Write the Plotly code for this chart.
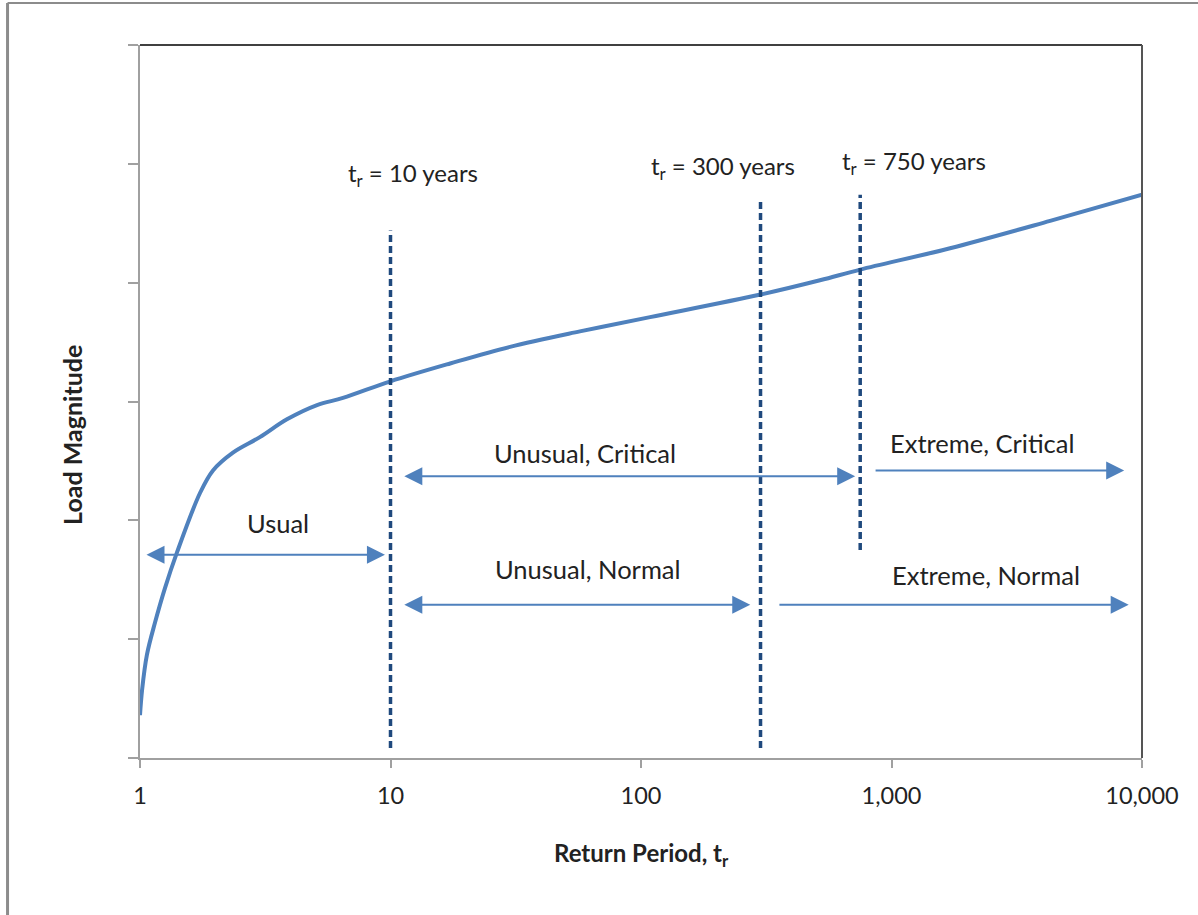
import numpy as np
import plotly.graph_objects as go

# ---- data ----
curve_x = [1.0, 1.019, 1.066, 1.148, 1.258, 1.405, 1.736, 1.956, 2.35, 3.01, 3.86, 5.09, 6.46,
           10, 17.3, 30, 57, 108.7, 300, 518, 750, 1713, 4297, 10000]
curve_y = [0.36, 0.57, 0.87, 1.14, 1.43, 1.73, 2.23, 2.42, 2.57, 2.70, 2.85, 2.97, 3.03,
           3.17, 3.32, 3.46, 3.59, 3.71, 3.90, 4.02, 4.11, 4.29, 4.52, 4.74]

limit_x = [10, 300, 750]
limit_top = [4.44, 4.71, 4.74]
limit_bottom = [0.084, 0.084, 1.75]
limit_labels = ["t<sub>r</sub> = 10 years", "t<sub>r</sub> = 300 years", "t<sub>r</sub> = 750 years"]
limit_label_x = [12.3, 212, 1230]
limit_label_y = [4.91, 4.97, 5.01]

range_names = ["Usual", "Unusual, Critical", "Unusual, Normal", "Extreme, Critical", "Extreme, Normal"]
range_start = [1.047, 11.2, 11.2, 852, 352]
range_end = [9.5, 716, 273, 8490, 8850]
range_level = [1.71, 2.37, 1.29, 2.42, 1.29]
range_double = [True, True, True, False, False]
range_label_x = [3.56, 59.8, 61.4, 2297, 2384]
range_label_y = [1.98, 2.57, 1.59, 2.65, 1.54]

x_tickvals = [1, 10, 100, 1000, 10000]
x_ticktext = ["1", "10", "100", "1,000", "10,000"]
y_tickvals = [0, 1, 2, 3, 4, 5, 6]

BLUE = "#4F81BD"
DARK = "#1F497D"
TXT = "#222222"
FONT = "Lato"

fig = go.Figure()

fig.add_trace(go.Scatter(x=curve_x, y=curve_y, mode="lines",
                         line=dict(color=BLUE, width=4, shape="spline", smoothing=1.0),
                         hoverinfo="skip", showlegend=False))

for xv, yt, yb in zip(limit_x, limit_top, limit_bottom):
    fig.add_trace(go.Scatter(x=[xv, xv], y=[yb, yt], mode="lines",
                             line=dict(color=DARK, width=3.5, dash="7px,4px"),
                             hoverinfo="skip", showlegend=False))

annotations = []
for txt, lx, ly in zip(limit_labels, limit_label_x, limit_label_y):
    annotations.append(dict(x=np.log10(lx), y=ly, xref="x", yref="y", text=txt,
                            showarrow=False, xanchor="center", yanchor="middle",
                            font=dict(family=FONT, size=24, color=TXT)))

for name, xs, xe, lv, dbl, lx, ly in zip(range_names, range_start, range_end, range_level,
                                         range_double, range_label_x, range_label_y):
    annotations.append(dict(x=np.log10(xe), y=lv, ax=np.log10(xs), ay=lv,
                            xref="x", yref="y", axref="x", ayref="y", text="",
                            showarrow=True, arrowhead=2, arrowsize=1.8, arrowwidth=2,
                            startarrowhead=2, startarrowsize=1.8,
                            arrowside="end+start" if dbl else "end",
                            arrowcolor=BLUE, standoff=0, startstandoff=0))
    annotations.append(dict(x=np.log10(lx), y=ly, xref="x", yref="y", text=name,
                            showarrow=False, xanchor="center", yanchor="middle",
                            font=dict(family=FONT, size=25.5, color=TXT)))

annotations.append(dict(x=0.5, y=-0.136, xref="paper", yref="paper",
                        xanchor="center", yanchor="middle",
                        text="<b>Return Period, t<sub>r</sub></b>", showarrow=False,
                        font=dict(family=FONT, size=24, color=TXT)))
annotations.append(dict(x=-0.068, y=0.453, xref="paper", yref="paper",
                        xanchor="center", yanchor="middle",
                        text="<b>Load Magnitude</b>", showarrow=False, textangle=-90,
                        font=dict(family=FONT, size=25, color=TXT)))

shapes = [
    # top and right frame of plot area
    dict(type="line", xref="paper", yref="paper", x0=0, x1=1, y0=1, y1=1,
         line=dict(color="#000000", width=1.5)),
    dict(type="line", xref="paper", yref="paper", x0=1, x1=1, y0=0, y1=1,
         line=dict(color="#555555", width=2)),
    # outer chart border (left and top visible)
    dict(type="line", xref="paper", yref="paper", x0=-0.1322, x1=-0.1322, y0=-0.25, y1=1.0589,
         line=dict(color="#8c8c8c", width=3)),
    dict(type="line", xref="paper", yref="paper", x0=-0.1322, x1=1.1, y0=1.0589, y1=1.0589,
         line=dict(color="#8c8c8c", width=2)),
]

fig.update_layout(
    width=1198, height=915, autosize=False,
    margin=dict(l=140, r=56, t=45, b=157),
    paper_bgcolor="white", plot_bgcolor="white",
    showlegend=False,
    annotations=annotations, shapes=shapes,
    xaxis=dict(type="log", range=[0, 4], tickvals=x_tickvals, ticktext=x_ticktext,
               ticks="outside", ticklen=8, tickcolor="#a0a0a0", tickwidth=1.5,
               showline=True, linecolor="#a0a0a0", linewidth=1.5,
               showgrid=False, zeroline=False, ticklabelstandoff=8,
               tickfont=dict(family=FONT, size=23.5, color=TXT)),
    yaxis=dict(range=[0, 6], tickvals=y_tickvals, showticklabels=False,
               ticks="outside", ticklen=10, tickcolor="#a0a0a0", tickwidth=1.5,
               showline=True, linecolor="#a0a0a0", linewidth=1.5,
               showgrid=False, zeroline=False),
)

fig.write_html("out.html", config={"displayModeBar": False},
               post_script="document.body.style.margin='0px';document.body.style.padding='0px';")
